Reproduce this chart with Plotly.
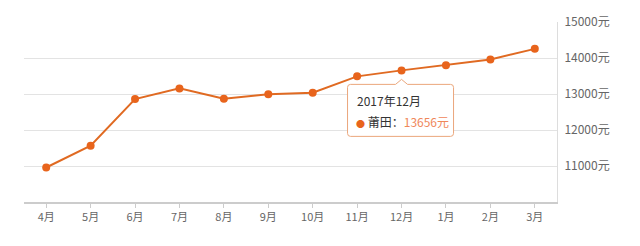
import plotly.graph_objects as go

months = ["4月", "5月", "6月", "7月", "8月", "9月", "10月", "11月", "12月", "1月", "2月", "3月"]
prices = [10958, 11564, 12858, 13156, 12869, 12990, 13036, 13490, 13656, 13800, 13958, 14254]
y_ticks = [11000, 12000, 13000, 14000, 15000]
tip_index = 8
tip_title = "2017年12月"
tip_series = "莆田"

FONT = "Microsoft YaHei, Noto Sans CJK SC, sans-serif"
ORANGE = "#e8641c"

fig = go.Figure()
fig.add_trace(go.Scatter(
    x=months, y=prices, mode="lines+markers",
    line=dict(color="#e06a22", width=2),
    marker=dict(color=ORANGE, size=8),
    hoverinfo="skip", showlegend=False,
))

tx = months[tip_index]
ty = prices[tip_index]
# tooltip box with pointer, in pixel offsets relative to the hovered point
L, R, T, B, r = -54, 52, -14, -66, 3
path = (f"M {L+r},{T} L -6,{T} L 0,{T+5} L 6,{T} L {R-r},{T} Q {R},{T} {R},{T-r} "
        f"L {R},{B+r} Q {R},{B} {R-r},{B} L {L+r},{B} Q {L},{B} {L},{B+r} "
        f"L {L},{T-r} Q {L},{T} {L+r},{T} Z")
fig.add_shape(type="path", xref="x", yref="y", xsizemode="pixel", ysizemode="pixel",
              xanchor=tx, yanchor=ty, path=path,
              fillcolor="white", line=dict(color="#eba77c", width=1), layer="above")

fig.add_annotation(x=tx, y=ty, xref="x", yref="y", text=tip_title, showarrow=False,
                   xanchor="left", yanchor="middle", xshift=-47, yshift=-30,
                   font=dict(family=FONT, size=12, color="#333333"))
fig.add_annotation(x=tx, y=ty, xref="x", yref="y",
                   text=(f"<span style='color:{ORANGE};font-size:9px'>●</span> {tip_series}：<span style='color:#f0875a'>{prices[tip_index]}元</span>"),
                   showarrow=False, xanchor="left", yanchor="middle", xshift=-48, yshift=-51,
                   font=dict(family=FONT, size=12, color="#333333"))

fig.update_layout(
    width=640, height=246,
    margin=dict(l=24, r=83, t=22, b=44),
    paper_bgcolor="white", plot_bgcolor="white",
    font=dict(family=FONT, size=12, color="#666666"),
)
fig.update_xaxes(
    type="category", range=[-0.5, len(months) - 0.5],
    showgrid=False, showline=True, linecolor="#cccccc", linewidth=2,
    ticks="outside", ticklen=4, tickcolor="#cccccc",
    tickfont=dict(size=11, color="#666666"), zeroline=False,
)
fig.update_yaxes(
    range=[10000, 15000], side="right", tickvals=y_ticks,
    ticktext=[f"{v}元" for v in y_ticks],
    showgrid=True, gridcolor="#e3e3e3", gridwidth=1,
    showline=True, linecolor="#dddddd", linewidth=1,
    ticks="", ticklabelstandoff=4, zeroline=False,
    tickfont=dict(size=12, color="#666666"),
)

fig.write_html("out.html")
